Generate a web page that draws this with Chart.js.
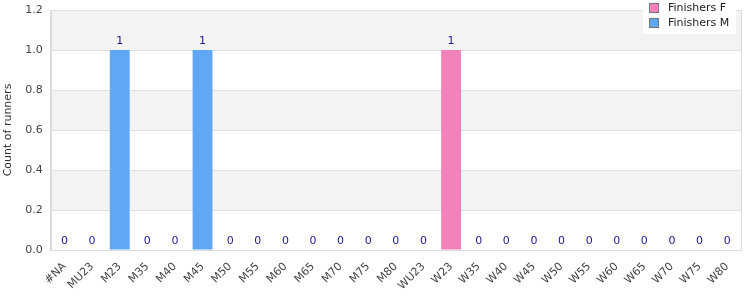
<!DOCTYPE html>
<html>
<head>
<meta charset="utf-8">
<script src="https://cdn.jsdelivr.net/npm/chart.js@4"></script>
<style>
  html,body{margin:0;padding:0;background:#fff}
  #wrap{width:750px;height:300px;position:relative}
</style>
</head>
<body>
<div id="wrap"><canvas id="c"></canvas></div>
<script>
const categories = ["#NA","MU23","M23","M35","M40","M45","M50","M55","M60","M65","M70","M75","M80","WU23","W23","W35","W40","W45","W50","W55","W60","W65","W70","W75","W80"];
const finishersF = [0,0,0,0,0,0,0,0,0,0,0,0,0,0,1,0,0,0,0,0,0,0,0,0,0];
const finishersM = [0,0,1,0,0,1,0,0,0,0,0,0,0,0,0,0,0,0,0,0,0,0,0,0,0];
const yTicks = [0,0.2,0.4,0.6,0.8,1.0,1.2];

const FONT = "DejaVu Sans";
const PINK = "#f283ba";
const BLUE = "#60a8f4";

// alternate grey bands between y ticks, top band grey, plus plot frame
const bands = {
  id: "bands",
  beforeDraw(chart){
    const {ctx, chartArea:a, scales:{y}} = chart;
    ctx.save();
    for(let i=0;i<yTicks.length-1;i++){
      if((yTicks.length-2-i)%2!==0) continue;
      const y0 = y.getPixelForValue(yTicks[i+1]);
      const y1 = y.getPixelForValue(yTicks[i]);
      ctx.fillStyle = "#f3f3f3";
      ctx.fillRect(a.left, y0, a.right-a.left, y1-y0);
    }
    ctx.strokeStyle = "#dcdcdc";
    ctx.lineWidth = 1;
    ctx.strokeRect(Math.round(a.left)+0.5, Math.round(a.top)+0.5, Math.round(a.right-a.left), Math.round(a.bottom-a.top));
    ctx.restore();
  }
};

// total labels above each stack
const totals = {
  id: "totals",
  afterDatasetsDraw(chart){
    const {ctx, scales:{x,y}} = chart;
    ctx.save();
    ctx.font = "11px '"+FONT+"'";
    ctx.fillStyle = "#1a1a8f";
    ctx.textAlign = "center";
    ctx.textBaseline = "bottom";
    categories.forEach((c,i)=>{
      const t = finishersF[i]+finishersM[i];
      ctx.fillText(String(t), x.getPixelForValue(i), y.getPixelForValue(t)-3);
    });
    ctx.restore();
  }
};

// legend overlaid top-right
const overLegend = {
  id: "overLegend",
  afterDraw(chart){
    const {ctx} = chart;
    const items = [["Finishers F",PINK],["Finishers M",BLUE]];
    ctx.save();
    const x0 = 643, y0 = 0, w = 93, h = 34;
    ctx.fillStyle = "#fff";
    ctx.fillRect(x0, y0, w, h);
    ctx.font = "11px '"+FONT+"'";
    ctx.textBaseline = "middle";
    items.forEach(([t,col],i)=>{
      const cy = 8 + i*15;
      ctx.fillStyle = col;
      ctx.fillRect(x0+7, cy-4, 8, 8);
      ctx.strokeStyle = "#777";
      ctx.lineWidth = 1;
      ctx.strokeRect(x0+6.5, cy-4.5, 9, 9);
      ctx.fillStyle = "#222";
      ctx.fillText(t, x0+25, cy);
    });
    ctx.restore();
  }
};

new Chart(document.getElementById("c"), {
  type: "bar",
  data: {
    labels: categories,
    datasets: [
      {label:"Finishers F", data: finishersF, backgroundColor: PINK, barPercentage: 0.72, categoryPercentage: 1},
      {label:"Finishers M", data: finishersM, backgroundColor: BLUE, barPercentage: 0.72, categoryPercentage: 1}
    ]
  },
  options: {
    responsive: true,
    maintainAspectRatio: false,
    animation: false,
    layout: { padding: { top: 0, right: 9, left: 0, bottom: 0 } },
    plugins: { legend: { display: false }, tooltip: { enabled: false } },
    scales: {
      x: {
        stacked: true,
        grid: { display: false, drawTicks: false },
        border: { color: "#dcdcdc" },
        ticks: { maxRotation: 45, minRotation: 45, autoSkip: false, color: "#444", font: { family: FONT, size: 11 }, padding: 10 },
        afterFit(s){ s.height = 50; }
      },
      y: {
        stacked: true,
        min: 0, max: 1.2,
        grid: { color: "#e0e0e0", drawTicks: false },
        border: { color: "#dcdcdc" },
        ticks: { stepSize: 0.2, color: "#444", font: { family: FONT, size: 11 }, padding: 8,
          callback: v => Number(v).toFixed(1) },
        title: { display: true, text: "Count of runners", color: "#333", font: { family: FONT, size: 11 }, padding: 2 },
        afterFit(s){ s.paddingTop = 10; }
      }
    }
  },
  plugins: [bands, totals, overLegend]
});
</script>
</body>
</html>
